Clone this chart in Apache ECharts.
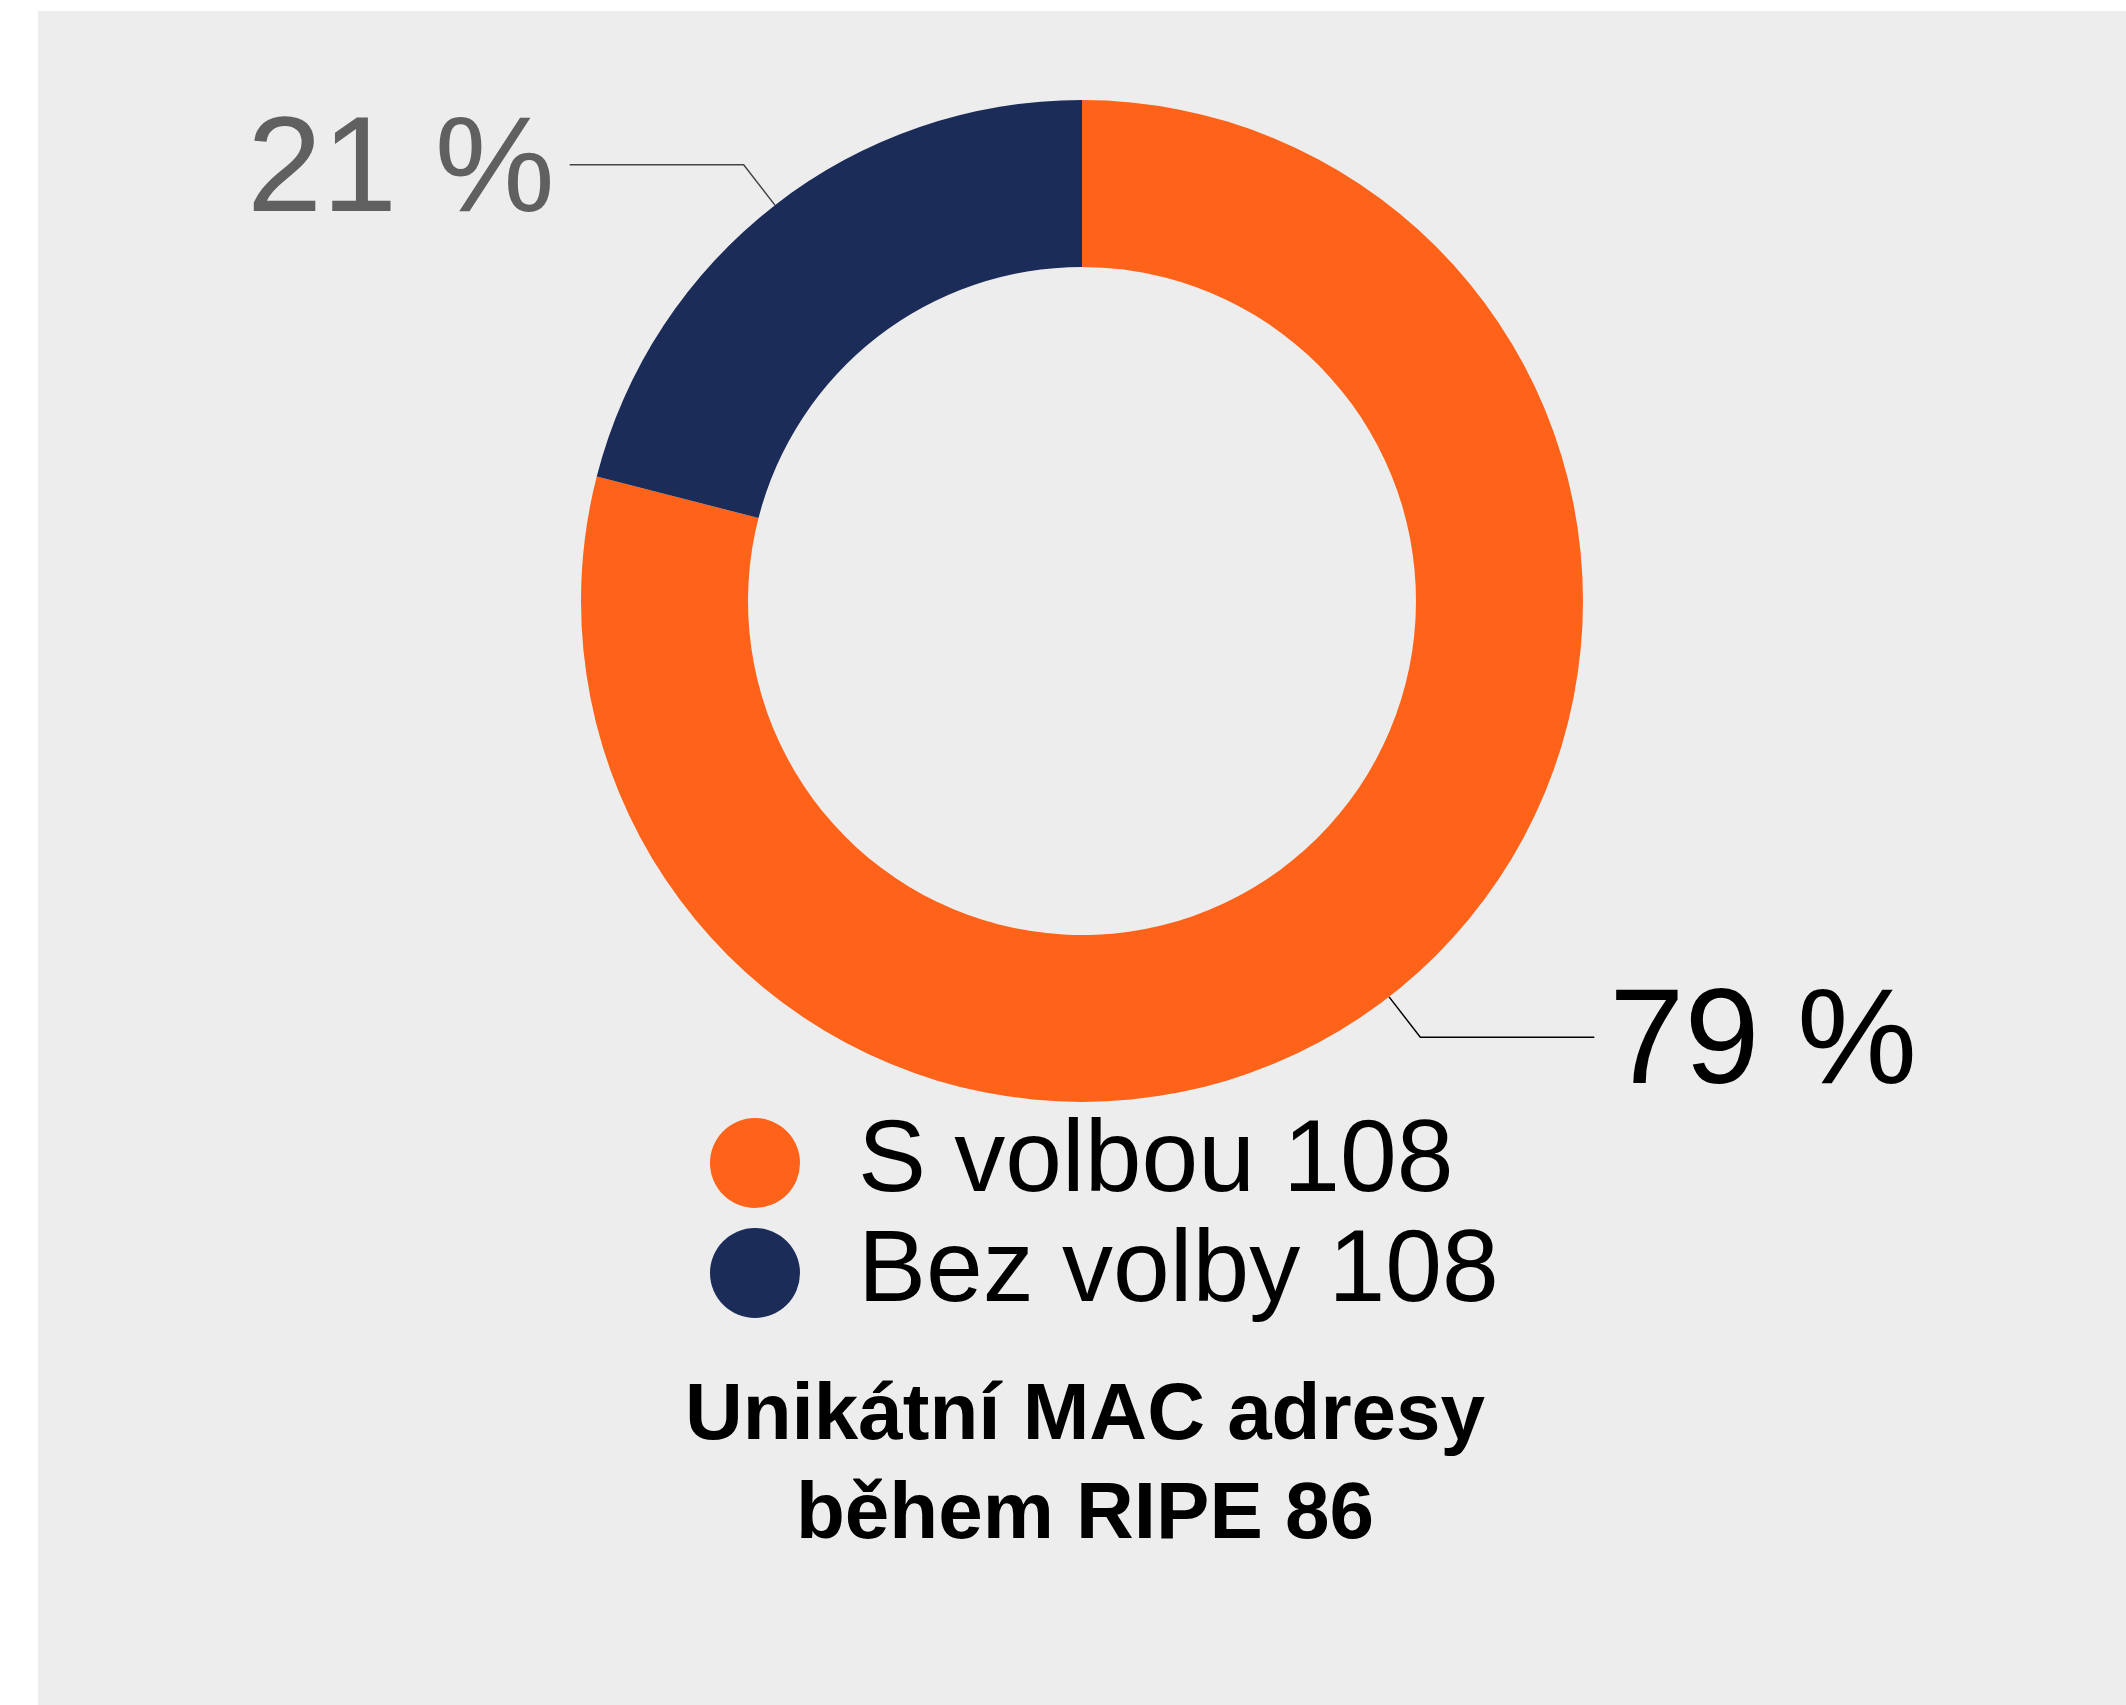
<!DOCTYPE html>
<html>
<head>
<meta charset="utf-8">
<script src="https://cdn.jsdelivr.net/npm/echarts@6/dist/echarts.min.js"></script>
<style>
  html, body { margin: 0; padding: 0; background: #fff; }
  #chart { width: 2126px; height: 1705px; }
</style>
</head>
<body>
<div id="chart"></div>
<script>
'use strict';

// data
var sliceNames = ['S volbou 108', 'Bez volby 108'];
var sliceValues = [79, 21];
var sliceColors = ['#ff6319', '#1b2c59'];
var labelColors = ['#000000', '#606060'];
var titleLines = ['Unikátní MAC adresy', 'během RIPE 86'];

var chart = echarts.init(document.getElementById('chart'));

var pieData = sliceNames.map(function (name, i) {
	return {
		name: name,
		value: sliceValues[i],
		itemStyle: { color: sliceColors[i] },
		label: { color: labelColors[i] },
		labelLine: { lineStyle: { color: i === 0 ? '#000' : '#444' } }
	};
});

chart.setOption({
	backgroundColor: '#ffffff',
	animation: false,
	graphic: [{
		type: 'rect',
		z: -10,
		shape: { x: 38, y: 11, width: 2126 - 38, height: 1705 - 11 },
		style: { fill: '#ededed' }
	}],
	title: {
		text: titleLines.join('\n'),
		left: 1085,
		top: 1367,
		padding: 0,
		textAlign: 'center',
		textStyle: {
			fontFamily: '"Liberation Sans", Arial, sans-serif',
			fontWeight: 'bold',
			fontSize: 80,
			lineHeight: 99,
			color: '#000'
		}
	},
	legend: {
		orient: 'vertical',
		left: 710,
		top: 1112,
		padding: 0,
		itemWidth: 196,
		itemHeight: 90,
		itemGap: 8,
		icon: 'circle',
		selectedMode: false,
		data: sliceNames,
		textStyle: {
			fontFamily: '"Liberation Sans", Arial, sans-serif',
			fontSize: 102,
			lineHeight: 90,
			color: '#000'
		}
	},
	series: [{
		type: 'pie',
		center: [1082, 601],
		radius: [334, 501],
		startAngle: 90,
		clockwise: true,
		avoidLabelOverlap: false,
		label: {
			show: true,
			position: 'outside',
			formatter: '{d} %',
			fontFamily: '"Liberation Sans", Arial, sans-serif',
			fontSize: 135,
			distanceToLabelLine: 15
		},
		labelLayout: {
			dy: 9
		},
		labelLine: {
			show: true,
			length: 51,
			length2: 174,
			lineStyle: { width: 1.5 }
		},
		emphasis: { disabled: true },
		data: pieData
	}]
});
</script>
</body>
</html>
